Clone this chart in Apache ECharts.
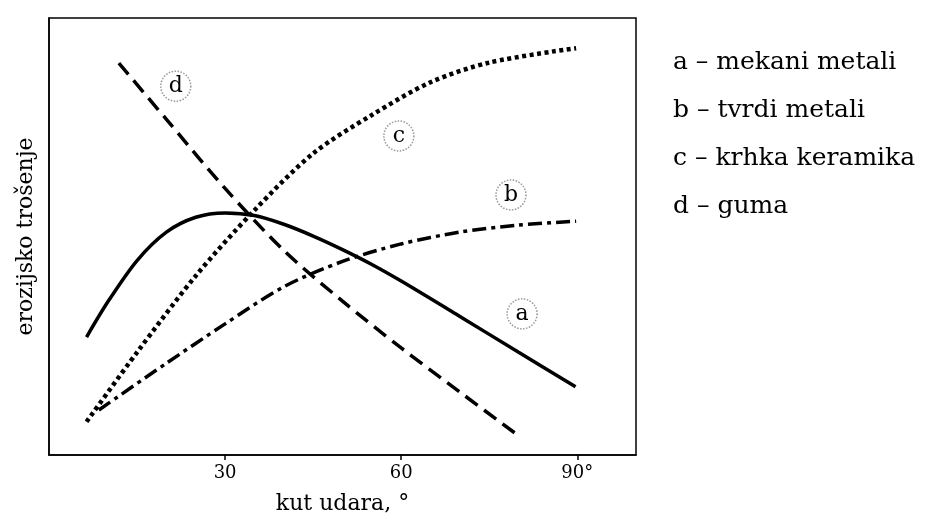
<!DOCTYPE html>
<html>
<head>
<meta charset="utf-8">
<style>html,body{margin:0;padding:0;background:#fff;}#c{width:932px;height:521px;}</style>
<script src="https://cdn.jsdelivr.net/npm/echarts@6/dist/echarts.min.js"></script>
</head>
<body>
<div id="c"></div>
<script>
// x: kut udara (deg), y: relative erosion wear (0-100)
var curveA = [[6.4,27.0],[10,35.0],[15,44.5],[20,51.0],[25,54.4],[30,55.4],[35,54.8],[40,52.8],[45,50.1],[50,47.0],[55,43.6],[60,39.8],[70,31.7],[80,23.5],[89.7,15.6]];
var curveB = [[8.5,10.3],[20,21.0],[30,30.0],[40,38.5],[50,44.3],[60,48.3],[70,51.0],[80,52.6],[89.8,53.5]];
var curveC = [[6.4,7.6],[15,23.5],[25,41.0],[35,56.0],[45,69.0],[55,77.8],[65,85.3],[75,89.8],[89.8,93.1]];
var curveD = [[11.9,89.7],[20,76.8],[30,61.0],[40,46.8],[50,35.2],[60,24.5],[70,14.4],[79.6,4.8]];
var curveTags = [['d',21.6,84.4],['c',59.6,73.0],['b',78.7,59.5],['a',80.6,32.3]];
var xTickValues = [30,60,90];
var xTickLabels = ['30','60','90°'];
var legendLines = ['a – mekani metali','b – tvrdi metali','c – krhka keramika','d – guma'];
var xTitle = 'kut udara, °';
var yTitle = 'erozijsko trošenje';

var serif = 'DejaVu Serif';
var chart = echarts.init(document.getElementById('c'));
function mk(data, dash, w){
  return {type:'line', showSymbol:false, symbol:'none', smooth:0.3, silent:true,
    data:data, lineStyle:{color:'#000', width:w, type:dash, cap:'butt'}};
}
chart.setOption({
  animation:false,
  grid:{left:49, right:296, top:18, bottom:66, show:true, borderColor:'#000', borderWidth:1.5, backgroundColor:'transparent'},
  xAxis:{type:'value', min:0, max:100, splitLine:{show:false},
    axisLine:{lineStyle:{color:'#000', width:1.5}},
    axisTick:{show:true, customValues:xTickValues, length:5, lineStyle:{color:'#000', width:1.5}},
    axisLabel:{customValues:xTickValues, color:'#000', fontFamily:serif, fontSize:18, margin:9,
      formatter:function(v){var i=xTickValues.indexOf(v);return i>=0?xTickLabels[i]:'';}},
    name:xTitle, nameLocation:'middle', nameGap:38, nameTextStyle:{color:'#000', fontFamily:serif, fontSize:22}
  },
  yAxis:{type:'value', min:0, max:100, splitLine:{show:false},
    axisLine:{show:true, lineStyle:{color:'#000', width:1.5}}, axisTick:{show:false}, axisLabel:{show:false},
    name:yTitle, nameLocation:'middle', nameGap:12, nameTextStyle:{color:'#000', fontFamily:serif, fontSize:22}
  },
  series:[
    mk(curveA,'solid',3.5),
    mk(curveB,[14,5,4,5],3.5),
    mk(curveC,[4,3.5],4.5),
    mk(curveD,[15,8],3.5),
    {type:'scatter', silent:true, symbol:'circle', symbolSize:30,
      data:curveTags.map(function(t){return {name:t[0], value:[t[1],t[2]]};}),
      itemStyle:{color:'rgba(0,0,0,0)', opacity:1, borderColor:'#999', borderWidth:1.5, borderType:'dotted'},
      label:{show:true, position:'inside', formatter:'{b}', color:'#000', textBorderWidth:0, fontFamily:serif, fontSize:22}
    }
  ],
  graphic: legendLines.map(function(s,i){
    return {type:'text', x:673, y:62+i*48, style:{text:s, fill:'#000', font:'25px "'+serif+'"', verticalAlign:'middle'}};
  })
});
</script>
</body>
</html>
